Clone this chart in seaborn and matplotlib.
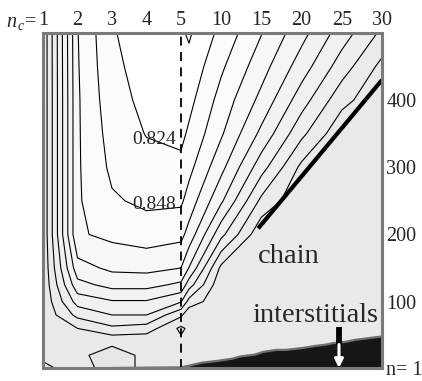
"""
Contour map of n_c vs n with chain / interstitial regions.
"""

import numpy as np
import matplotlib
matplotlib.use('Agg')
import matplotlib.pyplot as plt
import seaborn as sns

# grid of the map: n_c along x, n along y
nc_grid = [1, 2, 3, 4, 5, 6, 10, 15, 20, 25, 30]
n_grid = [1, 20, 40, 60, 80, 100, 125, 150, 200, 250, 300, 350, 400, 450, 500]

# map value along n for each n_c column
z_nc1 = [1.045, 1.035, 1.035, 1.035, 1.035, 1.035, 1.035, 1.035, 1.035, 1.035, 1.035, 1.035, 1.035, 1.035, 1.035]
z_nc2 = [1.03, 1.035, 1.035, 1.016, 0.985, 0.958, 0.928, 0.905, 0.875, 0.875, 0.875, 0.875, 0.875, 0.874, 0.873]
z_nc3 = [1.05, 1.05, 1.035, 0.997, 0.968, 0.946, 0.912, 0.891, 0.866, 0.851, 0.843, 0.838, 0.833, 0.829, 0.826]
z_nc4 = [1.035, 1.035, 1.035, 1.003, 0.968, 0.946, 0.912, 0.889, 0.860, 0.843, 0.832, 0.823, 0.818, 0.815, 0.812]
z_nc5 = [1.035, 1.035, 1.035, 1.045, 1.011, 0.966, 0.925, 0.896, 0.865, 0.844, 0.830, 0.818, 0.815, 0.809, 0.803]
z_nc6 = [1.035, 1.035, 1.035, 1.035, 1.035, 1.001, 0.957, 0.921, 0.881, 0.858, 0.841, 0.828, 0.817, 0.807, 0.797]
z_nc10 = [1.035, 1.035, 1.035, 1.035, 1.035, 1.035, 1.035, 1.022, 0.961, 0.916, 0.889, 0.869, 0.857, 0.844, 0.831]
z_nc15 = [1.035, 1.035, 1.035, 1.035, 1.035, 1.035, 1.035, 1.035, 1.035, 0.998, 0.958, 0.926, 0.903, 0.886, 0.871]
z_nc20 = [1.035, 1.035, 1.035, 1.035, 1.035, 1.035, 1.035, 1.035, 1.035, 1.035, 1.022, 0.986, 0.957, 0.932, 0.912]
z_nc25 = [1.035, 1.035, 1.035, 1.035, 1.035, 1.035, 1.035, 1.035, 1.035, 1.035, 1.035, 1.035, 1.008, 0.980, 0.956]
z_nc30 = [1.035, 1.035, 1.035, 1.035, 1.035, 1.035, 1.035, 1.035, 1.035, 1.035, 1.035, 1.035, 1.035, 1.023, 0.997]

# contour levels
levels = [0.776, 0.800, 0.824, 0.848, 0.872, 0.896, 0.920, 0.944, 0.968, 0.992, 1.016, 1.040, 1.064]

# chain boundary line
chain_nc = [14.6, 30.0]
chain_n = [209, 430]

# interstitial region upper edge (staircase)
inter_nc = [3.0, 5.0, 6.2, 7.6, 9.8, 11.4, 12.3, 14.2, 15.2, 16.9, 18.1, 20.2, 21.8, 23.1, 23.9, 25.5, 26.7, 30.0]
inter_n = [1, 2, 5, 9, 12, 15, 18, 21, 25, 28, 28, 31, 34, 36, 38, 40, 43, 48]

xticks = [1, 2, 3, 4, 5, 10, 15, 20, 25, 30]
yticks = [1, 100, 200, 300, 400]
ytick_labels = ['n= 1', '100', '200', '300', '400']


def fwd(x):
    x = np.asarray(x, dtype=float)
    return np.where(x <= 5, (x - 1) * 34.5, 138 + (x - 5) * 8.04)


def inv(u):
    u = np.asarray(u, dtype=float)
    return np.where(u <= 138, 1 + u / 34.5, 5 + (u - 138) / 8.04)


sns.set_style('white')
plt.rcParams['font.family'] = ['Liberation Serif', 'DejaVu Serif']
plt.rcParams['mathtext.fontset'] = 'custom'
plt.rcParams['mathtext.it'] = 'Liberation Serif:italic'
plt.rcParams['mathtext.rm'] = 'Liberation Serif'

Z = np.column_stack([z_nc1, z_nc2, z_nc3, z_nc4, z_nc5, z_nc6,
                     z_nc10, z_nc15, z_nc20, z_nc25, z_nc30])

fig = plt.figure(figsize=(4.22, 3.81), dpi=100)
ax = fig.add_axes([43 / 422, 1 - 368 / 381, 339 / 422, 335 / 381])
ax.set_xscale('function', functions=(fwd, inv))

band_colors = ['#ffffff', '#ffffff'] + sns.blend_palette(['#fcfcfc', '#e9e9e9'], 9).as_hex() + ['#e6e6e6']
ax.contourf(nc_grid, n_grid, Z, levels=levels, colors=band_colors)
ax.contour(nc_grid, n_grid, Z, levels=levels[1:-1], colors='black', linewidths=0.8)

# interstitial (black) region
ax.fill_between(inter_nc, 0, inter_n, color='#161616', zorder=3)
ax.plot(inter_nc, inter_n, color='#707070', lw=1.6, zorder=3)

# chain line and n_c = 5 divider
ax.plot(chain_nc, chain_n, color='black', lw=3, solid_capstyle='butt', zorder=4)
ax.axvline(5, color='black', lw=1.3, ls=(0, (5, 3.5)), zorder=4)

ax.text(4.22, 342, '0.824', fontsize=14, ha='center', va='center', zorder=5)
ax.text(4.22, 245, '0.848', fontsize=14, ha='center', va='center', zorder=5)
ax.text(14.6, 158, 'chain', fontsize=20.5, ha='left', va='baseline', zorder=5)
ax.text(13.9, 69, 'interstitials', fontsize=20.5, ha='left', va='baseline', zorder=5)

# arrow to the interstitial region
ax.plot([24.65, 24.65], [62, 35], color='black', lw=4.2, solid_capstyle='butt', zorder=5)
ax.annotate('', xy=(24.65, 1), xytext=(24.65, 36), zorder=6,
            arrowprops=dict(arrowstyle='-|>,head_length=0.5,head_width=0.25',
                            color='white', lw=2.2, shrinkA=0, shrinkB=0))

ax.set_xlim(1, 30)
ax.set_ylim(1, 500)
ax.xaxis.tick_top()
ax.yaxis.tick_right()
ax.set_xticks(xticks)
ax.set_xticklabels([str(t) for t in xticks], fontsize=14.5)
ax.set_yticks(yticks)
ax.set_yticklabels(ytick_labels, fontsize=14.5)
ax.tick_params(axis='x', direction='in', length=4, width=2, color='black', pad=2)
ax.tick_params(axis='y', direction='in', length=4, width=2, color='black', pad=3)
ax.minorticks_off()
fig.text(37 / 422, 1 - 27 / 381, r'$n_{\,c}$=', fontsize=14.5, ha='right', va='baseline')
for sp in ax.spines.values():
    sp.set_color('#7a7a7a')
    sp.set_linewidth(2.2)
    sp.set_zorder(7)

plt.savefig('out.png', dpi=100)
plt.close()
